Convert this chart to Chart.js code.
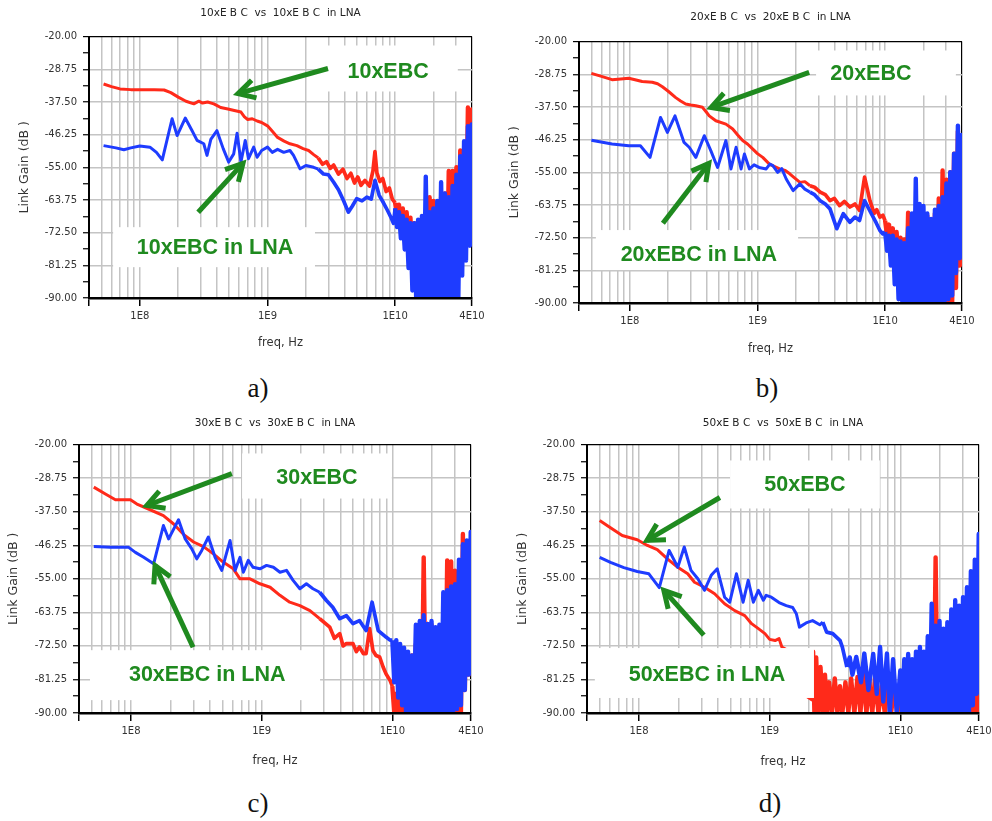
<!DOCTYPE html>
<html>
<head>
<meta charset="utf-8">
<script src="https://cdn.jsdelivr.net/npm/chart.js@4.4.1/dist/chart.umd.min.js"></script>
<style>
  html, body { margin: 0; padding: 0; background: #fff; }
  #page { position: relative; width: 992px; height: 821px; overflow: hidden; background: #fff; }
  canvas { position: absolute; }
  .cap { position: absolute; width: 60px; text-align: center; font-family: "Liberation Serif", serif; font-size: 27px; line-height: 30px; color: #111; }
</style>
</head>
<body>
<div id="page">
  <canvas id="chartA" width="496" height="360" style="left:0;top:0"></canvas>
  <canvas id="chartB" width="496" height="365" style="left:496px;top:0"></canvas>
  <canvas id="chartC" width="496" height="370" style="left:0;top:405px"></canvas>
  <canvas id="chartD" width="496" height="370" style="left:496px;top:405px"></canvas>
  <div class="cap" style="left:228px;top:373px">a)</div>
  <div class="cap" style="left:737px;top:373px">b)</div>
  <div class="cap" style="left:228px;top:788px">c)</div>
  <div class="cap" style="left:740px;top:788px">d)</div>
</div>
<script>
// axis ticks
var freqTicks = [4e7, 5e7, 6e7, 7e7, 8e7, 9e7, 1e8, 2e8, 3e8, 4e8, 5e8, 6e8, 7e8, 8e8, 9e8,
  1e9, 2e9, 3e9, 4e9, 5e9, 6e9, 7e9, 8e9, 9e9, 1e10, 2e10, 3e10, 4e10];
var freqMajor = [1e8, 1e9, 1e10, 4e10];
var freqMajorLabels = ['1E8', '1E9', '1E10', '4E10'];
var gainTicks = [-90, -85.625, -81.25, -76.875, -72.5, -68.125, -63.75, -59.375, -55,
  -50.625, -46.25, -41.875, -37.5, -33.125, -28.75, -24.375, -20];
var gainMajor = [-90, -81.25, -72.5, -63.75, -55, -46.25, -37.5, -28.75, -20];

// frequencies of the dense (noisy) band above 10 GHz, shared by all panels
var noiseFreq = [1.0e10, 1.035e10, 1.072e10, 1.109e10, 1.148e10, 1.189e10, 1.230e10, 1.274e10,
  1.318e10, 1.365e10, 1.413e10, 1.462e10, 1.514e10, 1.567e10, 1.622e10, 1.679e10, 1.738e10,
  1.799e10, 1.862e10, 1.928e10, 1.995e10, 2.065e10, 2.138e10, 2.213e10, 2.291e10, 2.371e10,
  2.455e10, 2.541e10, 2.630e10, 2.723e10, 2.818e10, 2.917e10, 3.020e10, 3.126e10, 3.236e10,
  3.350e10, 3.467e10, 3.589e10, 3.715e10, 3.846e10, 3.981e10, 4.0e10];

// a) 10xEBC
var redFreqA = [5.2e7, 6.0e7, 7.0e7, 8.5e7, 1.0e8, 1.3e8, 1.55e8, 1.75e8, 2.0e8, 2.3e8, 2.65e8, 2.9e8,
  3.1e8, 3.4e8, 3.8e8, 4.3e8, 4.9e8, 5.5e8, 6.2e8, 6.6e8, 7.0e8, 7.6e8, 8.3e8, 9.0e8, 1.0e9, 1.1e9,
  1.2e9, 1.35e9, 1.5e9, 1.7e9, 1.9e9, 2.1e9, 2.3e9, 2.5e9, 2.7e9, 2.9e9, 3.1e9, 3.3e9, 3.6e9, 3.9e9,
  4.2e9, 4.5e9, 4.8e9, 5.1e9, 5.4e9, 5.8e9, 6.3e9, 6.7e9, 6.95e9, 7.2e9, 7.6e9, 8.0e9, 8.5e9, 9.0e9, 9.5e9];
var redGainA = [-32.7, -33.4, -34.0, -34.2, -34.2, -34.2, -34.3, -35.0, -36.2, -37.3, -38.0, -37.3,
  -37.8, -37.5, -38.0, -39.0, -39.4, -39.8, -40.2, -41.5, -42.2, -42.0, -42.6, -43.0, -43.9, -45.5,
  -47.0, -48.0, -48.7, -49.2, -50.0, -50.5, -51.6, -52.5, -54.2, -53.5, -55.3, -54.4, -56.8, -55.5,
  -58.0, -56.6, -59.2, -57.6, -59.8, -58.5, -60.0, -56.0, -50.8, -56.5, -58.8, -58.0, -61.5, -60.5, -63.5];
var redNoiseA = [-64.5, -68, -65, -70, -66, -72, -67, -74, -68.5, -80, -70, -85, -71, -88, -70, -90,
  -68, -90, -63, -88, -64, -90, -66, -90, -63, -90, -62, -86, -56, -88, -56, -84, -55, -82, -50.5, -80,
  -52, -75, -39, -70, -39.5, -69];
var blueFreqA = [5.2e7, 6.5e7, 7.5e7, 8.5e7, 1.0e8, 1.2e8, 1.35e8, 1.5e8, 1.79e8, 1.96e8, 2.27e8, 2.55e8,
  2.81e8, 3.17e8, 3.36e8, 3.6e8, 4.02e8, 4.5e8, 4.97e8, 5.44e8, 5.78e8, 6.2e8, 6.7e8, 7.1e8, 7.8e8,
  8.3e8, 9.0e8, 1.0e9, 1.09e9, 1.2e9, 1.34e9, 1.5e9, 1.6e9, 1.8e9, 2.0e9, 2.3e9, 2.5e9, 2.75e9, 3.0e9,
  3.3e9, 3.6e9, 3.94e9, 4.3e9, 4.6e9, 5.0e9, 5.5e9, 6.0e9, 6.5e9, 6.95e9, 7.5e9, 8.1e9, 8.7e9, 9.3e9, 9.7e9];
var blueGainA = [-49.2, -49.8, -50.3, -49.8, -49.3, -49.6, -51.0, -53.0, -42.0, -46.5, -41.8, -45.0,
  -47.8, -48.7, -51.8, -47.5, -45.2, -50.0, -53.6, -51.4, -45.9, -53.6, -47.8, -52.7, -49.6, -52.3,
  -50.5, -49.6, -51.0, -50.2, -51.0, -50.5, -51.8, -55.4, -54.5, -55.0, -55.5, -56.8, -57.0, -59.0,
  -61.0, -63.9, -67.0, -65.5, -63.4, -64.0, -63.0, -63.5, -58.5, -62.5, -64.5, -66.5, -68.5, -70.0];
var blueNoiseA = [-66, -71, -67, -74, -68, -77, -69, -82, -70, -88, -70, -90, -69, -90, -68, -90,
  -57.5, -90, -67, -90, -66, -90, -64, -90, -59, -90, -62, -90, -63, -90, -60, -90, -57, -90, -52, -84,
  -48, -80, -44, -76, -43.5, -72];

// b) 20xEBC
var redFreqB = [5e7, 6e7, 7.26e7, 8.5e7, 9.8e7, 1.1e8, 1.25e8, 1.5e8, 1.65e8, 1.8e8, 2.0e8, 2.29e8, 2.5e8,
  2.74e8, 3.0e8, 3.29e8, 3.71e8, 4.0e8, 4.19e8, 4.72e8, 5.66e8, 6.4e8, 7.0e8, 7.66e8, 8.4e8, 9.2e8,
  1.0e9, 1.1e9, 1.24e9, 1.49e9, 1.65e9, 1.79e9, 1.95e9, 2.15e9, 2.35e9, 2.58e9, 2.8e9, 3.1e9, 3.4e9,
  3.7e9, 4.0e9, 4.4e9, 4.8e9, 5.3e9, 5.8e9, 6.3e9, 6.9e9, 7.6e9, 8.2e9, 8.6e9, 9.1e9, 9.6e9];
var redGainB = [-28.5, -29.3, -30.2, -30.0, -29.8, -30.2, -30.7, -30.9, -31.3, -32.1, -33.3, -35.0, -35.9,
  -36.7, -37.0, -37.2, -37.6, -39.0, -39.9, -41.2, -42.1, -43.4, -45.0, -46.5, -47.5, -48.8, -50.0,
  -51.0, -52.8, -54.1, -54.5, -55.4, -56.5, -57.7, -57.5, -58.6, -59.0, -60.3, -61.0, -62.6, -62.0,
  -63.9, -62.8, -64.3, -63.5, -65.2, -56.3, -62.6, -66.0, -65.0, -67.0, -66.5];
var redNoiseB = [-68, -72, -69, -74, -70, -77, -71, -80, -72.5, -85, -73, -88, -65.8, -90, -67, -90,
  -70, -90, -68, -90, -67, -90, -66.6, -90, -68, -90, -66, -90, -62, -90, -54.5, -90, -57, -90, -55, -90,
  -50, -86, -44, -80, -46, -75.5];
var blueFreqB = [5e7, 7.26e7, 9.8e7, 1.21e8, 1.44e8, 1.74e8, 1.97e8, 2.26e8, 2.66e8, 2.92e8, 3.29e8,
  3.83e8, 4.31e8, 4.87e8, 5.66e8, 6.2e8, 6.8e8, 7.44e8, 7.9e8, 8.65e8, 9.4e8, 1.03e9, 1.17e9, 1.25e9,
  1.32e9, 1.44e9, 1.55e9, 1.68e9, 1.9e9, 2.15e9, 2.35e9, 2.58e9, 2.8e9, 3.1e9, 3.4e9, 3.7e9, 4.18e9,
  4.7e9, 5.3e9, 5.8e9, 6.3e9, 6.9e9, 7.8e9, 8.5e9, 9.1e9, 9.6e9];
var blueGainB = [-46.4, -47.4, -47.9, -47.9, -51.0, -40.3, -44.3, -39.9, -47.0, -48.3, -51.0, -45.2,
  -49.2, -53.7, -46.5, -54.1, -48.3, -54.1, -50.1, -54.1, -53.0, -53.7, -54.1, -52.8, -53.2, -55.0,
  -54.0, -56.8, -59.9, -58.1, -59.5, -60.3, -61.0, -62.6, -63.5, -64.8, -70.1, -66.1, -68.4, -67.0,
  -67.9, -62.6, -66.1, -68.5, -70.6, -71.5];
var blueNoiseB = [-71, -76, -72, -80, -72, -85, -73, -89, -73.5, -90, -74, -90, -70, -90, -66, -90,
  -56.7, -90, -63.5, -90, -64, -90, -66, -90, -67.5, -90, -65, -90, -64, -90, -61.7, -90, -58, -89, -55,
  -88, -50, -82, -42.5, -78, -45, -76];

// c) 30xEBC
var redFreqC = [5.19e7, 6.37e7, 7.6e7, 9.9e7, 1.11e8, 1.32e8, 1.77e8, 2.12e8, 2.52e8, 3.01e8, 3.59e8,
  4.27e8, 5.1e8, 6.07e8, 6.83e8, 8.14e8, 9.7e8, 1.16e9, 1.38e9, 1.64e9, 1.96e9, 2.34e9, 2.78e9, 3.32e9,
  3.6e9, 3.96e9, 4.2e9, 4.45e9, 5.0e9, 5.3e9, 5.6e9, 6.0e9, 6.3e9, 6.7e9, 7.1e9, 7.5e9, 8.0e9, 8.5e9,
  8.95e9, 9.6e9];
var redGainC = [-31.1, -32.9, -34.4, -34.4, -35.5, -36.6, -38.5, -40.7, -43.4, -45.4, -46.6, -48.5,
  -50.7, -52.4, -55.0, -55.0, -56.3, -57.2, -59.3, -61.1, -62.0, -63.3, -65.4, -67.6, -70.5, -69.3,
  -72.5, -71.9, -71.9, -74.0, -72.8, -74.5, -74.5, -68.0, -73.7, -75.0, -75.4, -78.0, -79.8, -81.5];
var redNoiseC = [-83, -90, -85, -90, -80, -90, -78, -90, -76, -90, -75, -90, -72, -90, -70, -90,
  -49.4, -88, -66.8, -90, -67, -90, -70, -90, -72, -90, -65, -90, -50.2, -90, -50.5, -90, -52.9, -90,
  -55, -90, -43.3, -84, -48, -80, -46, -72];
var blueFreqC = [5.19e7, 6.95e7, 9.6e7, 1.08e8, 1.25e8, 1.49e8, 1.77e8, 1.94e8, 2.31e8, 2.6e8, 2.92e8,
  3.19e8, 3.48e8, 3.91e8, 4.4e8, 4.95e8, 5.73e8, 6.26e8, 6.83e8, 7.24e8, 7.9e8, 8.6e8, 9.7e8, 1.09e9,
  1.23e9, 1.38e9, 1.55e9, 1.74e9, 1.96e9, 2.2e9, 2.47e9, 2.78e9, 3.12e9, 3.5e9, 3.96e9, 4.45e9, 5.0e9,
  5.6e9, 6.3e9, 7.0e9, 7.8e9, 8.95e9, 9.6e9];
var blueGainC = [-46.6, -46.8, -46.8, -48.1, -49.4, -51.1, -41.1, -44.6, -39.6, -44.6, -47.2, -49.8,
  -47.6, -44.1, -49.4, -52.8, -45.0, -52.8, -49.4, -53.3, -50.2, -52.0, -52.4, -51.5, -52.0, -53.3,
  -52.8, -55.4, -57.6, -56.3, -57.6, -58.5, -60.6, -62.4, -65.4, -64.6, -66.7, -65.9, -68.5, -61.1,
  -68.5, -70.2, -71.0];
var blueNoiseC = [-71, -82, -71, -86, -72, -88, -73, -90, -74, -90, -75, -90, -67, -90, -66, -90,
  -64.5, -90, -66.8, -90, -66, -90, -67.6, -90, -67, -90, -58.5, -90, -58, -90, -57, -90, -56.4, -89,
  -50, -88, -46, -84, -45, -80, -42.8, -77.6];

// d) 50xEBC
var redFreqD = [5.0e7, 6.05e7, 7.44e7, 9.7e7, 1.16e8, 1.38e8, 1.65e8, 1.98e8, 2.36e8, 2.66e8, 3.17e8,
  3.79e8, 4.52e8, 5.4e8, 6.45e8, 7.27e8, 8.2e8, 9.2e8, 1.0e9, 1.1e9, 1.18e9, 1.24e9, 1.35e9, 1.6e9,
  1.9e9, 1.95e9, 2.13e9, 2.15e9, 2.2e9, 2.27e9, 2.35e9, 2.45e9, 2.55e9, 2.65e9, 2.75e9, 2.85e9, 3.0e9,
  3.15e9, 3.3e9, 3.45e9, 3.6e9, 3.8e9, 4.0e9, 4.2e9, 4.45e9, 4.7e9, 4.95e9, 5.2e9, 5.5e9, 5.8e9, 6.1e9,
  6.4e9, 6.8e9, 7.2e9, 7.6e9, 8.0e9, 8.5e9, 9.0e9, 9.5e9];
var redGainD = [-39.8, -41.7, -43.7, -44.8, -46.3, -47.4, -49.8, -52.0, -53.7, -55.9, -57.2, -58.9,
  -61.5, -63.3, -64.6, -66.7, -68.0, -69.3, -70.8, -71.1, -70.6, -72.8, -73.5, -75.0, -76.0, -85.8,
  -86.7, -74.0, -90, -75.5, -90, -78, -90, -80, -90, -82, -90, -81, -90, -83, -90, -82, -90, -81, -90,
  -80.6, -90, -80, -90, -82, -90, -81, -90, -83, -90, -82, -90, -83, -90];
var redNoiseD = [-84, -90, -85, -90, -84, -90, -83, -90, -84, -90, -85, -90, -84, -90, -83, -90, -80,
  -90, -49.4, -90, -82, -90, -84, -90, -83, -90, -85, -90, -84, -90, -83, -90, -85, -90, -84, -90, -80,
  -90, -75, -90, -70, -90];
var blueFreqD = [5.0e7, 6.05e7, 7.66e7, 9.7e7, 1.19e8, 1.43e8, 1.7e8, 1.98e8, 2.22e8, 2.5e8, 2.82e8,
  3.17e8, 3.57e8, 3.97e8, 4.52e8, 4.95e8, 5.57e8, 6.26e8, 6.85e8, 7.5e8, 8.2e8, 8.95e8, 9.4e8, 1.03e9,
  1.18e9, 1.34e9, 1.5e9, 1.6e9, 1.69e9, 1.9e9, 2.13e9, 2.42e9, 2.55e9, 2.73e9, 3.04e9, 3.46e9, 3.6e9,
  3.9e9, 4.1e9, 4.3e9, 4.6e9, 5.0e9, 5.3e9, 5.7e9, 6.2e9, 6.6e9, 7.0e9, 7.4e9, 7.9e9, 8.3e9, 8.8e9, 9.4e9];
var blueGainD = [-49.4, -50.7, -52.1, -53.1, -53.7, -57.3, -47.6, -52.0, -46.7, -52.8, -55.0, -58.0,
  -54.1, -52.4, -59.8, -61.1, -53.7, -61.1, -55.4, -61.1, -58.0, -60.6, -59.3, -59.8, -61.2, -62.0,
  -62.5, -64.1, -67.6, -66.5, -65.9, -67.0, -66.3, -68.9, -69.3, -71.1, -72.8, -78.0, -75.5, -80.0,
  -75.4, -82.0, -74.5, -84.0, -74.6, -85.0, -72.8, -87.0, -74.5, -90, -76.0, -90];
var blueNoiseD = [-78.9, -90, -76, -90, -74.6, -90, -76, -90, -74, -90, -72.8, -90, -74, -90, -70, -90,
  -61.5, -90, -67.2, -90, -66, -90, -68, -90, -66.3, -90, -63, -90, -60.6, -90, -62, -90, -59.8, -90,
  -57.2, -90, -53, -88, -50, -85, -43.3, -76];

var RED = '#ff2a1a', BLUE = '#1e3cff', GREEN = '#1f8a1f', GRID = '#c4c4c4';
var TICKFONT = {family: 'DejaVu Sans', size: 10};

function series(freq, gain, noise) {
  var xs = freq.concat(noiseFreq), ys = gain.concat(noise);
  var n = Math.min(xs.length, ys.length), out = [];
  for (var i = 0; i < n; i++) out.push({x: xs[i], y: ys[i]});
  return out;
}

// ragged upper band is drawn heavier; the noisy band heaviest so it reads as filled
function bandWidth(dense) {
  return function(ctx) {
    var x = ctx.p0.parsed.x;
    if (x >= dense) return 4.4;
    if (x >= 2.5e9) return 3.7;
    return undefined;
  };
}

// white label boxes, green arrows and labels; positions are fractions of the plot area
function callouts(notes) {
  return {
    id: 'callouts',
    afterDatasetsDraw: function(chart) {
      var a = chart.chartArea, c = chart.ctx;
      var w = a.right - a.left, h = a.bottom - a.top;
      var X = function(f) { return a.left + f * w; };
      var Y = function(f) { return a.top + f * h; };
      c.save();
      c.fillStyle = '#fff';
      notes.boxes.forEach(function(b) {
        c.fillRect(X(b[0]), Y(b[1]), (b[2] - b[0]) * w, (b[3] - b[1]) * h);
      });
      c.strokeStyle = GREEN;
      c.lineWidth = 5;
      c.lineCap = 'butt';
      c.lineJoin = 'miter';
      notes.arrows.forEach(function(r) {
        var x1 = X(r[0]), y1 = Y(r[1]), x2 = X(r[2]), y2 = Y(r[3]);
        var ang = Math.atan2(y2 - y1, x2 - x1), head = 19, spread = 0.5;
        c.beginPath();
        c.moveTo(x1, y1);
        c.lineTo(x2, y2);
        c.stroke();
        c.beginPath();
        c.moveTo(x2 - head * Math.cos(ang - spread), y2 - head * Math.sin(ang - spread));
        c.lineTo(x2, y2);
        c.lineTo(x2 - head * Math.cos(ang + spread), y2 - head * Math.sin(ang + spread));
        c.stroke();
      });
      c.fillStyle = GREEN;
      c.font = 'bold 21.5px "Liberation Sans", Arial, sans-serif';
      c.textAlign = 'center';
      c.textBaseline = 'middle';
      notes.texts.forEach(function(t) { c.fillText(t[0], X(t[1]), Y(t[2])); });
      c.restore();
    }
  };
}

function makePanel(id, p) {
  var ctx = document.getElementById(id).getContext('2d');
  return new Chart(ctx, {
    type: 'line',
    data: {
      datasets: [
        {label: p.name + ' in LNA', data: series(p.blueFreq, p.blueGain, p.blueNoise),
          borderColor: BLUE, borderWidth: 3, clip: 0, segment: {borderWidth: bandWidth(p.blueDense)}},
        {label: p.name, data: series(p.redFreq, p.redGain, p.redNoise),
          borderColor: RED, borderWidth: 3, clip: 0, segment: {borderWidth: bandWidth(p.redDense)}}
      ]
    },
    options: {
      responsive: false,
      animation: false,
      layout: {padding: {left: 0, right: p.padRight, top: 0, bottom: 0}},
      elements: {point: {radius: 0}, line: {tension: 0, borderJoinStyle: 'round'}},
      plugins: {
        legend: {display: false},
        tooltip: {enabled: false},
        title: {display: true, text: p.title, fullSize: false, color: '#222',
          font: {family: 'DejaVu Sans', size: 10.5, weight: 'normal'},
          padding: {top: p.titlePad[0], bottom: p.titlePad[1]}}
      },
      scales: {
        x: {
          type: 'logarithmic', min: 4e7, max: 4e10,
          afterBuildTicks: function(s) { s.ticks = freqTicks.map(function(v) { return {value: v}; }); },
          afterFit: function(s) { s.height = p.xHeight; s.paddingLeft = 0; s.paddingRight = 0; },
          ticks: {
            autoSkip: false, maxRotation: 0, padding: 4, color: '#333', font: TICKFONT,
            callback: function(v) { var k = freqMajor.indexOf(v); return k < 0 ? '' : freqMajorLabels[k]; }
          },
          grid: {
            color: function(c) { var v = c.tick.value; return (v === 4e7 || v === 4e10) ? '#000' : GRID; },
            lineWidth: function(c) { return c.tick.value === 4e10 ? 1.2 : 1.5; },
            tickColor: function(c) {
              var v = c.tick.value; return (v === 4e7 || freqMajor.indexOf(v) >= 0) ? '#000' : 'rgba(0,0,0,0)';
            },
            tickLength: 8, tickWidth: 1.5
          },
          border: {display: true, color: '#000', width: 2.5, z: 1},
          title: {display: true, text: 'freq, Hz', color: '#333', font: {family: 'DejaVu Sans', size: 11.5},
            padding: {top: 0, bottom: p.xTitlePad}}
        },
        y: {
          min: -90, max: -20,
          afterBuildTicks: function(s) { s.ticks = gainTicks.map(function(v) { return {value: v}; }); },
          afterFit: function(s) { s.width = p.yWidth; s.paddingTop = 0; s.paddingBottom = 0; },
          ticks: {
            padding: 6, color: '#333', font: TICKFONT,
            callback: function(v) { return gainMajor.indexOf(v) < 0 ? '' : v.toFixed(2); }
          },
          grid: {
            color: function(c) {
              var v = c.tick.value;
              if (v === -20) return '#000';
              return gainMajor.indexOf(v) < 0 ? 'rgba(0,0,0,0)' : GRID;
            },
            lineWidth: function(c) { return c.tick.value === -20 ? 1.2 : 1.5; },
            tickColor: '#000', tickLength: 6, tickWidth: 1.2
          },
          border: {display: true, color: '#000', width: 2, z: 1},
          title: {display: true, text: 'Link Gain (dB )', color: '#333', font: {family: 'DejaVu Sans', size: 12.5},
            padding: {top: p.yTitlePad, bottom: 0}}
        }
      }
    },
    plugins: [callouts(p.notes)]
  });
}

makePanel('chartA', {
  name: '10xEBC', title: '10xE B C  vs  10xE B C  in LNA',
  redFreq: redFreqA, redGain: redGainA, redNoise: redNoiseA, redDense: 1e10,
  blueFreq: blueFreqA, blueGain: blueGainA, blueNoise: blueNoiseA, blueDense: 1e10,
  yWidth: 89, xHeight: 62, padRight: 24, titlePad: [7, 17], yTitlePad: 17.5, xTitlePad: 10,
  notes: {
    boxes: [[0.624, 0.034, 0.963, 0.210], [0.063, 0.729, 0.590, 0.882]],
    arrows: [[0.624, 0.122, 0.389, 0.218], [0.285, 0.672, 0.402, 0.485]],
    texts: [['10xEBC', 0.781, 0.134], ['10xEBC in LNA', 0.329, 0.809]]
  }
});
makePanel('chartB', {
  name: '20xEBC', title: '20xE B C  vs  20xE B C  in LNA',
  redFreq: redFreqB, redGain: redGainB, redNoise: redNoiseB, redDense: 1e10,
  blueFreq: blueFreqB, blueGain: blueGainB, blueNoise: blueNoiseB, blueDense: 1e10,
  yWidth: 83, xHeight: 62, padRight: 30, titlePad: [10.7, 18.3], yTitlePad: 10.8, xTitlePad: 9,
  notes: {
    boxes: [[0.619, 0.034, 0.984, 0.206], [0.044, 0.721, 0.572, 0.874]],
    arrows: [[0.601, 0.118, 0.345, 0.252], [0.219, 0.695, 0.339, 0.466]],
    texts: [['20xEBC', 0.762, 0.126], ['20xEBC in LNA', 0.313, 0.817]]
  }
});
makePanel('chartC', {
  name: '30xEBC', title: '30xE B C  vs  30xE B C  in LNA',
  redFreq: redFreqC, redGain: redGainC, redNoise: redNoiseC, redDense: 1e10,
  blueFreq: blueFreqC, blueGain: blueGainC, blueNoise: blueNoiseC, blueDense: 1e10,
  yWidth: 79, xHeight: 62, padRight: 25, titlePad: [12.3, 14.7], yTitlePad: 5.8, xTitlePad: 7,
  notes: {
    boxes: [[0.416, 0.033, 0.798, 0.201], [0.028, 0.766, 0.615, 0.952]],
    arrows: [[0.390, 0.108, 0.173, 0.227], [0.291, 0.755, 0.194, 0.450]],
    texts: [['30xEBC', 0.607, 0.123], ['30xEBC in LNA', 0.327, 0.859]]
  }
});
makePanel('chartD', {
  name: '50xEBC', title: '50xE B C  vs  50xE B C  in LNA',
  redFreq: redFreqD, redGain: redGainD, redNoise: redNoiseD, redDense: 2.1e9,
  blueFreq: blueFreqD, blueGain: blueGainD, blueNoise: blueNoiseD, blueDense: 3.8e9,
  yWidth: 91, xHeight: 62, padRight: 13, titlePad: [12.3, 14.7], yTitlePad: 19.2, xTitlePad: 6,
  notes: {
    boxes: [[0.365, 0.059, 0.747, 0.238], [0.020, 0.758, 0.579, 0.944]],
    arrows: [[0.339, 0.197, 0.153, 0.357], [0.298, 0.710, 0.196, 0.543]],
    texts: [['50xEBC', 0.556, 0.152], ['50xEBC in LNA', 0.306, 0.859]]
  }
});
</script>
</body>
</html>
